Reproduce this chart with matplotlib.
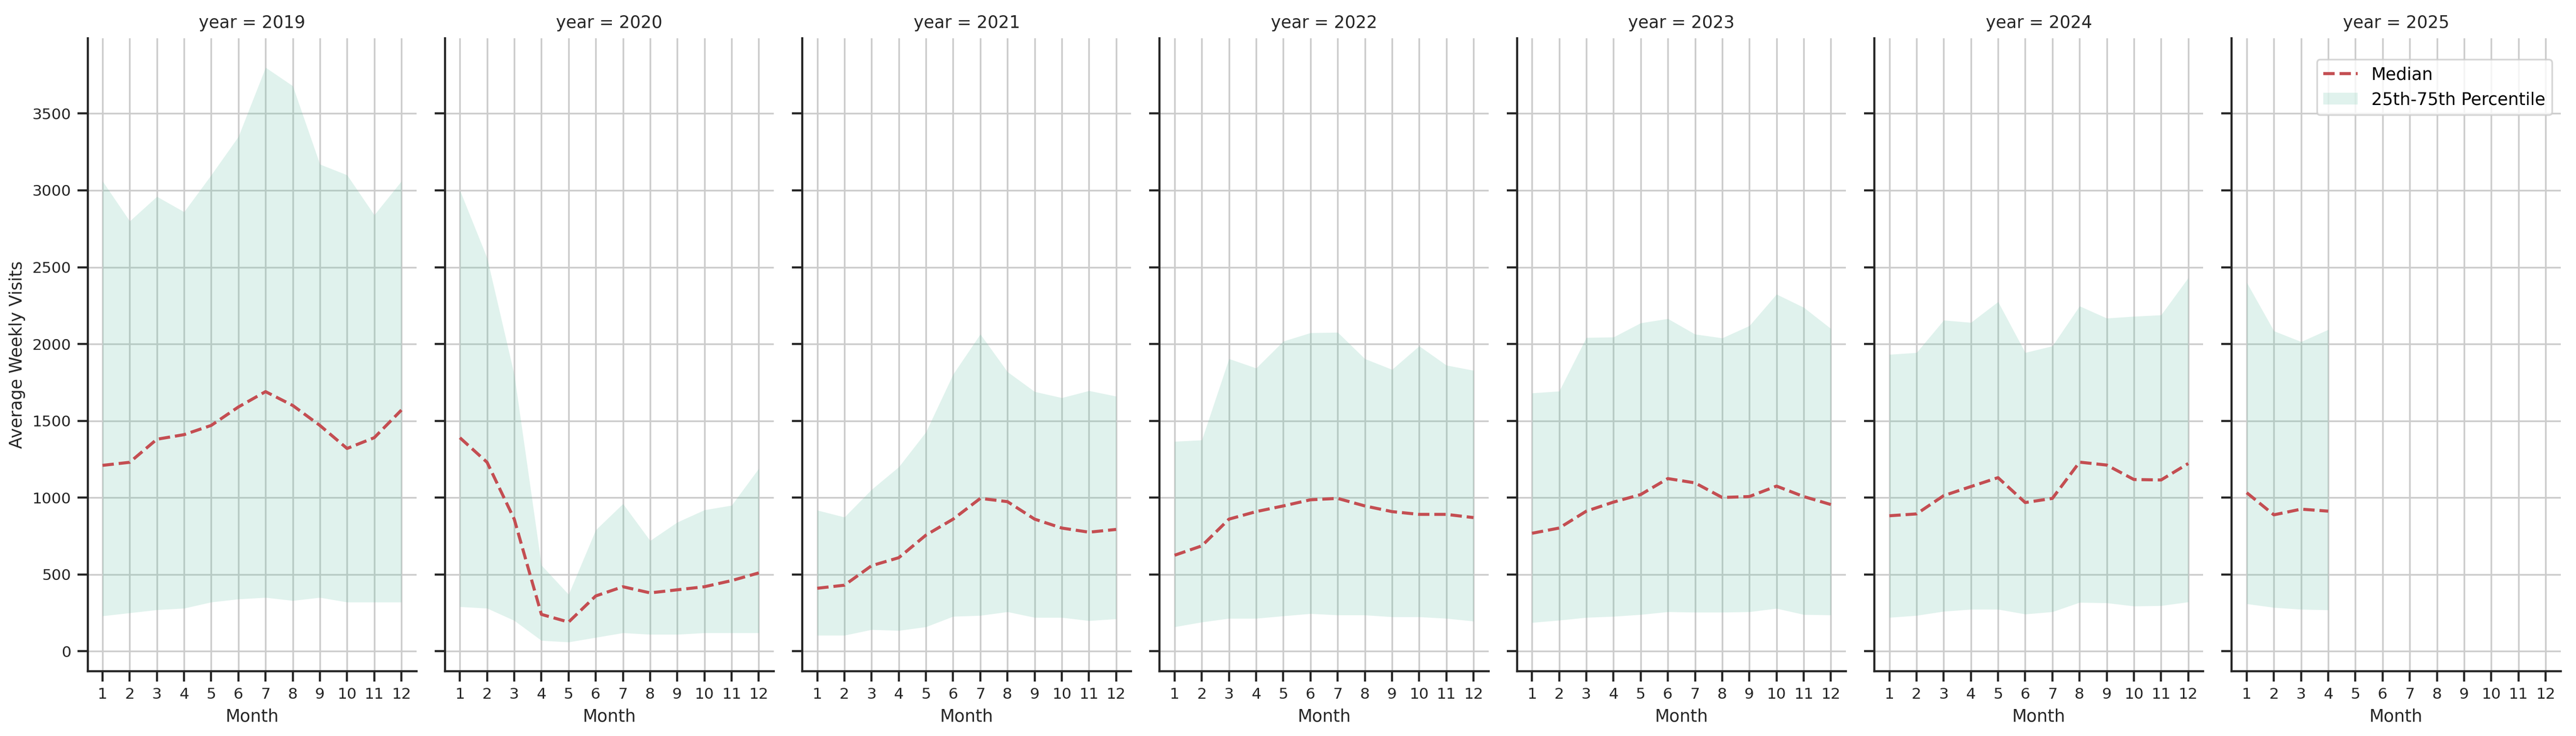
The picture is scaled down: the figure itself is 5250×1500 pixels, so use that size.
import matplotlib
matplotlib.use("Agg")
import matplotlib.pyplot as plt
import numpy as np

years = [2019, 2020, 2021, 2022, 2023, 2024, 2025]
months = list(range(1, 13))

median = {
    2019: [1210, 1230, 1380, 1410, 1470, 1590, 1690, 1600, 1470, 1320, 1390, 1570],
    2020: [1390, 1230, 860, 240, 190, 360, 420, 380, 400, 420, 460, 510],
    2021: [410, 430, 557, 609, 756, 860, 995, 974, 860, 802, 775, 793],
    2022: [625, 686, 860, 909, 946, 986, 995, 946, 909, 891, 891, 870],
    2023: [768, 802, 912, 971, 1020, 1124, 1096, 1001, 1007, 1075, 1007, 955],
    2024: [882, 894, 1013, 1072, 1130, 968, 995, 1231, 1212, 1118, 1115, 1222],
    2025: [1032, 888, 925, 912],
}
p75 = {
    2019: [3060, 2800, 2960, 2860, 3100, 3350, 3800, 3680, 3170, 3100, 2840, 3060],
    2020: [3000, 2560, 1800, 560, 370, 790, 960, 720, 840, 920, 950, 1190],
    2021: [918, 873, 1053, 1200, 1427, 1803, 2064, 1819, 1690, 1650, 1696, 1660],
    2022: [1366, 1375, 1904, 1843, 2018, 2073, 2076, 1904, 1834, 1987, 1862, 1828],
    2023: [1681, 1693, 2042, 2045, 2137, 2165, 2064, 2039, 2119, 2324, 2238, 2100],
    2024: [1932, 1944, 2155, 2140, 2275, 1944, 1987, 2247, 2168, 2180, 2189, 2431],
    2025: [2400, 2085, 2015, 2094],
}
p25 = {
    2019: [230, 250, 270, 280, 320, 340, 350, 330, 350, 320, 320, 320],
    2020: [290, 280, 200, 70, 60, 90, 120, 110, 110, 120, 120, 120],
    2021: [104, 104, 141, 135, 159, 227, 233, 257, 220, 220, 199, 211],
    2022: [159, 190, 214, 214, 230, 245, 236, 236, 224, 224, 214, 196],
    2023: [187, 202, 220, 227, 239, 257, 254, 254, 257, 279, 239, 236],
    2024: [220, 233, 260, 273, 273, 242, 257, 318, 315, 294, 297, 321],
    2025: [309, 285, 273, 269],
}

fig, axes = plt.subplots(1, 7, figsize=(21, 6), dpi=250, sharey=True)
fig.subplots_adjust(left=0.034, right=0.994, bottom=0.088, top=0.948, wspace=0.087)
dark = "#262626"
for ax, y in zip(axes, years):
    m = median[y]
    x = months[:len(m)]
    ax.plot(x, m, color="#c44e52", linestyle="--", linewidth=1.8, label="Median")
    ax.fill_between(x, p25[y], p75[y], color="#66c2a5", alpha=0.2, linewidth=0,
                    label="25th-75th Percentile")
    ax.set_xticks(months)
    ax.set_xlim(0.45, 12.55)
    ax.set_ylim(-130, 3990)
    ax.set_yticks([0, 500, 1000, 1500, 2000, 2500, 3000, 3500])
    ax.grid(True, color="#cccccc", linewidth=1)
    ax.set_axisbelow(True)
    for s in ["top", "right"]:
        ax.spines[s].set_visible(False)
    for s in ["left", "bottom"]:
        ax.spines[s].set_color(dark)
        ax.spines[s].set_linewidth(1.25)
    ax.tick_params(axis="both", direction="out", length=6, width=1.25, color=dark,
                   labelsize=9, labelcolor=dark)
    ax.set_title(f"year = {y}", fontsize=10, color=dark)
    ax.set_xlabel("Month", fontsize=10, color=dark)
axes[0].set_ylabel("Average Weekly Visits", fontsize=10, color=dark)
axes[-1].legend(loc="upper right", bbox_to_anchor=(1.0, 0.98), fontsize=10, frameon=True)
fig.savefig("out.png")
